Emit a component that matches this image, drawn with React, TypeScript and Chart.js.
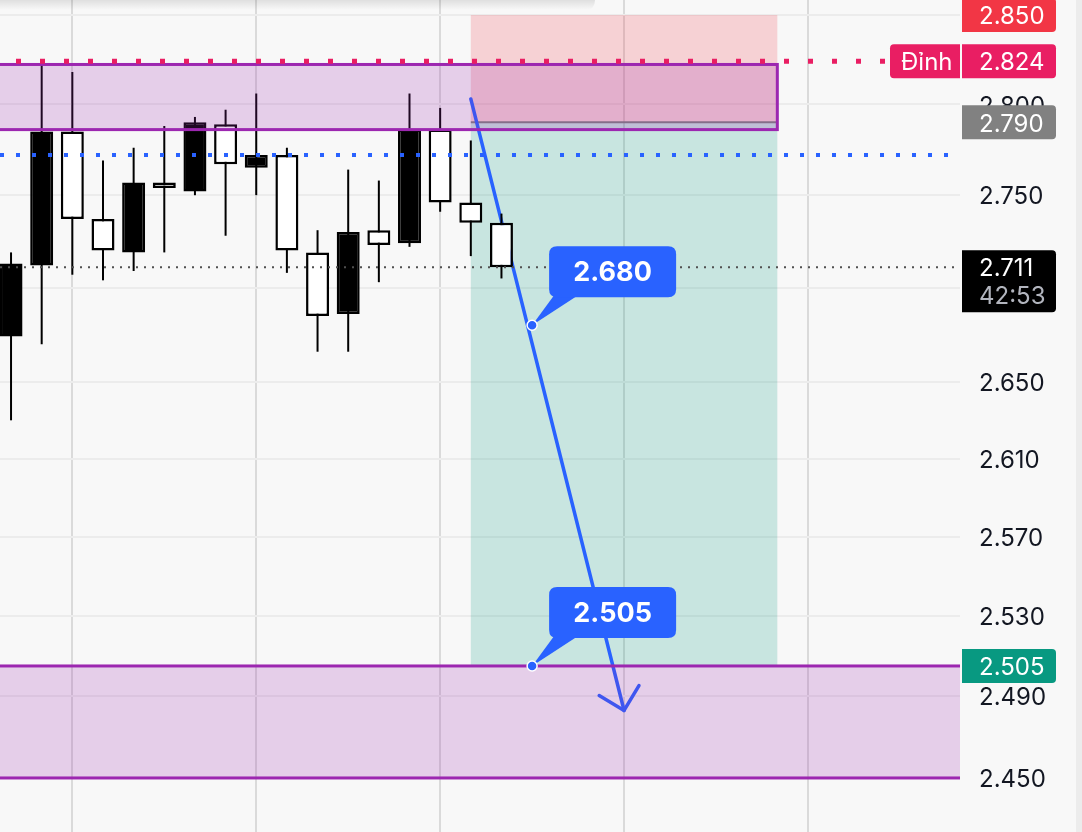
import React, { useEffect, useRef } from "react";
import { Chart, registerables } from "chart.js";

Chart.register(...registerables);

// ---- candle data (index, OHLC) ----
const INDEX = [0, 1, 2, 3, 4, 5, 6, 7, 8, 9, 10, 11, 12, 13, 14, 15, 16];
const OPEN = [2.674, 2.712, 2.785, 2.737, 2.719, 2.757, 2.752, 2.789, 2.765, 2.772, 2.719, 2.686, 2.731, 2.724, 2.786, 2.746, 2.735];
const HIGH = [2.719, 2.823, 2.818, 2.769, 2.776, 2.788, 2.793, 2.797, 2.806, 2.776, 2.731, 2.764, 2.758, 2.806, 2.798, 2.780, 2.740];
const LOW = [2.630, 2.670, 2.707, 2.704, 2.709, 2.719, 2.750, 2.728, 2.750, 2.708, 2.666, 2.666, 2.703, 2.722, 2.741, 2.717, 2.705];
const CLOSE = [2.713, 2.785, 2.737, 2.720, 2.757, 2.754, 2.790, 2.767, 2.772, 2.720, 2.685, 2.730, 2.723, 2.786, 2.746, 2.735, 2.711];

// ---- axes ----
const PRICE_TICKS = [2.45, 2.49, 2.53, 2.57, 2.61, 2.65, 2.7, 2.75, 2.8, 2.85];
const TIME_GRID = [2, 8, 14, 20, 26];
const X_RANGE = [-0.36, 30.96];
const Y_RANGE = [2.4239, 2.8585];

// ---- drawings ----
const POSITION_X = [15, 25];
const POSITION_STOP = 2.85;
const POSITION_ENTRY = 2.79;
const POSITION_TARGET = 2.505;
const TOP_ZONE_X = [-10, 25];
const TOP_ZONE_Y = [2.8222, 2.786];
const BOTTOM_ZONE_X = [-10, 60];
const BOTTOM_ZONE_Y = [2.505, 2.45];
const ARROW_X = [15, 20];
const ARROW_Y = [2.803, 2.483];
const CALLOUT_X = [17, 17];
const CALLOUT_Y = [2.68, 2.505];
const CALLOUT_TEXT = ["2.680", "2.505"];
const PEAK_PRICE = 2.824;
const PEAK_LABEL = "Đỉnh";
const ALERT_PRICE = 2.772;
const LAST_PRICE = 2.711;
const COUNTDOWN = "42:53";
const AXIS_LABEL_VALUES = [2.85, 2.824, 2.79, 2.711, 2.505];
const AXIS_LABEL_TEXT = ["2.850", "2.824", "2.790", "2.711", "2.505"];
const AXIS_LABEL_COLORS = ["#f23645", "#e91e63", "#818181", "#000000", "#089981"];

const FONT = "Inter, 'Noto Sans', sans-serif";

function rr(ctx: CanvasRenderingContext2D, x: number, y: number, w: number, h: number, r: [number, number, number, number]) {
  const [tl, tr, br, bl] = r;
  ctx.beginPath();
  ctx.moveTo(x + tl, y);
  ctx.lineTo(x + w - tr, y);
  ctx.quadraticCurveTo(x + w, y, x + w, y + tr);
  ctx.lineTo(x + w, y + h - br);
  ctx.quadraticCurveTo(x + w, y + h, x + w - br, y + h);
  ctx.lineTo(x + bl, y + h);
  ctx.quadraticCurveTo(x, y + h, x, y + h - bl);
  ctx.lineTo(x, y + tl);
  ctx.quadraticCurveTo(x, y, x + tl, y);
  ctx.closePath();
}

const overlay = {
  id: "overlay",
  beforeDraw(chart: any) {
    const { ctx, width, height } = chart;
    ctx.save();
    ctx.fillStyle = "#f8f8f8";
    ctx.fillRect(0, 0, width, height);
    ctx.restore();
  },
  beforeDatasetsDraw(chart: any) {
    const { ctx, chartArea: a, scales } = chart;
    const x = scales.x;
    const y = scales.y;
    ctx.save();
    ctx.beginPath();
    ctx.rect(a.left, a.top, a.right - a.left, a.bottom - a.top);
    ctx.clip();
    const x0 = x.getPixelForValue(POSITION_X[0]);
    const x1 = x.getPixelForValue(POSITION_X[1]);
    const yS = y.getPixelForValue(POSITION_STOP);
    const yE = y.getPixelForValue(POSITION_ENTRY);
    const yT = y.getPixelForValue(POSITION_TARGET);
    ctx.fillStyle = "rgba(242,54,69,0.2)";
    ctx.fillRect(x0, yS, x1 - x0, yE - yS);
    ctx.fillStyle = "rgba(8,153,129,0.2)";
    ctx.fillRect(x0, yE, x1 - x0, yT - yE);
    ctx.strokeStyle = "#808080";
    ctx.lineWidth = 2;
    ctx.beginPath();
    ctx.moveTo(x0, yE);
    ctx.lineTo(x1, yE);
    ctx.stroke();

    // arrow
    const ax0 = x.getPixelForValue(ARROW_X[0]);
    const ay0 = y.getPixelForValue(ARROW_Y[0]);
    const ax1 = x.getPixelForValue(ARROW_X[1]);
    const ay1 = y.getPixelForValue(ARROW_Y[1]);
    ctx.strokeStyle = "#2962ff";
    ctx.lineWidth = 3.5;
    ctx.lineCap = "round";
    ctx.lineJoin = "round";
    ctx.beginPath();
    ctx.moveTo(ax0, ay0);
    ctx.lineTo(ax1, ay1);
    ctx.stroke();
    const ang = Math.atan2(ay0 - ay1, ax0 - ax1);
    const L = 29;
    ctx.beginPath();
    ctx.moveTo(ax1 + L * Math.cos(ang + Math.PI / 4), ay1 + L * Math.sin(ang + Math.PI / 4));
    ctx.lineTo(ax1, ay1);
    ctx.lineTo(ax1 + L * Math.cos(ang - Math.PI / 4), ay1 + L * Math.sin(ang - Math.PI / 4));
    ctx.stroke();
    ctx.restore();
  },
  afterDatasetsDraw(chart: any) {
    const { ctx, chartArea: a, scales } = chart;
    const x = scales.x;
    const y = scales.y;
    ctx.save();
    ctx.beginPath();
    ctx.rect(a.left, a.top, a.right - a.left, a.bottom - a.top);
    ctx.clip();

    // purple zones
    const zones = [
      [TOP_ZONE_X, TOP_ZONE_Y],
      [BOTTOM_ZONE_X, BOTTOM_ZONE_Y],
    ];
    for (const [zx, zy] of zones) {
      const l = x.getPixelForValue(zx[0]);
      const r = x.getPixelForValue(zx[1]);
      const t = y.getPixelForValue(zy[0]);
      const b = y.getPixelForValue(zy[1]);
      ctx.fillStyle = "rgba(156,39,176,0.2)";
      ctx.fillRect(l, t, r - l, b - t);
      ctx.strokeStyle = "#9c27b0";
      ctx.lineWidth = 3;
      ctx.strokeRect(l, t, r - l, b - t);
    }

    // peak dotted line
    const peakLabelLeft = a.right - 70;
    const yP = y.getPixelForValue(PEAK_PRICE);
    ctx.strokeStyle = "#e91e63";
    ctx.lineWidth = 5;
    ctx.lineCap = "butt";
    ctx.setLineDash([5, 19]);
    ctx.lineDashOffset = 8;
    ctx.beginPath();
    ctx.moveTo(a.left, yP);
    ctx.lineTo(peakLabelLeft, yP);
    ctx.stroke();

    // alert dotted line
    const yA = y.getPixelForValue(ALERT_PRICE);
    ctx.strokeStyle = "#2962ff";
    ctx.lineWidth = 4;
    ctx.setLineDash([4, 12]);
    ctx.lineDashOffset = 0;
    ctx.beginPath();
    ctx.moveTo(a.left, yA);
    ctx.lineTo(a.right, yA);
    ctx.stroke();

    // last price dotted line
    const yL = y.getPixelForValue(LAST_PRICE);
    ctx.strokeStyle = "#505050";
    ctx.lineWidth = 2;
    ctx.setLineDash([2, 6]);
    ctx.beginPath();
    ctx.moveTo(a.left, yL);
    ctx.lineTo(a.right, yL);
    ctx.stroke();
    ctx.setLineDash([]);

    // callouts
    for (let i = 0; i < CALLOUT_X.length; i++) {
      const px = x.getPixelForValue(CALLOUT_X[i]);
      const py = y.getPixelForValue(CALLOUT_Y[i]);
      const bw = 127;
      const bh = 51;
      const bl = px + 17;
      const bb = py - 28;
      const bt = bb - bh;
      ctx.fillStyle = "#2962ff";
      ctx.beginPath();
      ctx.moveTo(bl + 5, bb - 2);
      ctx.lineTo(bl + 29, bb - 2);
      ctx.lineTo(px, py);
      ctx.closePath();
      ctx.fill();
      rr(ctx, bl, bt, bw, bh, [8, 8, 8, 8]);
      ctx.fill();
      ctx.fillStyle = "#ffffff";
      ctx.font = `bold 27px ${FONT}`;
      ctx.textAlign = "center";
      ctx.textBaseline = "middle";
      ctx.fillText(CALLOUT_TEXT[i], bl + bw / 2, bt + bh / 2 + 1);
      ctx.beginPath();
      ctx.arc(px, py, 5, 0, Math.PI * 2);
      ctx.fillStyle = "#2962ff";
      ctx.fill();
      ctx.strokeStyle = "#ffffff";
      ctx.lineWidth = 1.5;
      ctx.stroke();
    }
    ctx.restore();

    // axis labels
    ctx.save();
    ctx.font = `24px ${FONT}`;
    ctx.textBaseline = "middle";
    ctx.textAlign = "left";
    const boxL = a.right + 2;
    const boxW = 94;
    for (let i = 0; i < AXIS_LABEL_VALUES.length; i++) {
      const cy = y.getPixelForValue(AXIS_LABEL_VALUES[i]);
      const isLast = AXIS_LABEL_VALUES[i] === LAST_PRICE;
      const h = isLast ? 62 : 34;
      ctx.fillStyle = AXIS_LABEL_COLORS[i];
      rr(ctx, boxL, cy - 17, boxW, h, [0, 4, 4, 0]);
      ctx.fill();
      ctx.fillStyle = "#ffffff";
      ctx.fillText(AXIS_LABEL_TEXT[i], a.right + 19, cy + 2);
      if (isLast) {
        ctx.fillStyle = "#b2b5be";
        ctx.fillText(COUNTDOWN, a.right + 19, cy + 30);
      }
      if (AXIS_LABEL_VALUES[i] === PEAK_PRICE) {
        ctx.fillStyle = AXIS_LABEL_COLORS[i];
        rr(ctx, peakLabelLeft, cy - 17, 70, 34, [4, 0, 0, 4]);
        ctx.fill();
        ctx.fillStyle = "#ffffff";
        ctx.fillText(PEAK_LABEL, peakLabelLeft + 11, cy + 2);
      }
    }
    // right strip
    ctx.fillStyle = "#ececec";
    ctx.fillRect(chart.width - 6, 0, 6, chart.height);
    // top shadow
    const g = ctx.createLinearGradient(0, 0, 0, 10);
    g.addColorStop(0, "rgba(0,0,0,0.10)");
    g.addColorStop(1, "rgba(0,0,0,0)");
    ctx.fillStyle = g;
    rr(ctx, -10, -10, 605, 20, [0, 10, 10, 0]);
    ctx.fill();
    ctx.restore();
  },
};

export default function App() {
  const ref = useRef<HTMLCanvasElement>(null);
  useEffect(() => {
    document.body.style.margin = "0";
    const bodies = INDEX.map((i, k) => ({ x: i, y: [OPEN[k], CLOSE[k]] }));
    const wicks = INDEX.map((i, k) => ({ x: i, y: [LOW[k], HIGH[k]] }));
    const bodyColors = INDEX.map((_, k) => (CLOSE[k] >= OPEN[k] ? "#000000" : "#ffffff"));
    const chart = new Chart(ref.current as HTMLCanvasElement, {
      type: "bar",
      data: {
        datasets: [
          {
            data: bodies as any,
            backgroundColor: bodyColors,
            borderColor: "#000000",
            borderWidth: 2.5,
            borderSkipped: false,
            grouped: false,
            categoryPercentage: 1,
            barPercentage: 0.75,
            order: 0,
          } as any,
          {
            data: wicks as any,
            backgroundColor: "#000000",
            borderWidth: 0,
            grouped: false,
            categoryPercentage: 1,
            barPercentage: 0.1,
            maxBarThickness: 2,
            order: 1,
          } as any,
        ],
      },
      options: {
        responsive: false,
        animation: false,
        layout: { padding: 0 },
        plugins: { legend: { display: false }, tooltip: { enabled: false } },
        scales: {
          x: {
            type: "linear",
            min: X_RANGE[0],
            max: X_RANGE[1],
            offset: false,
            afterBuildTicks: (s: any) => {
              s.ticks = TIME_GRID.map((v) => ({ value: v }));
            },
            ticks: { display: false },
            grid: { color: "#dadada", lineWidth: 2, drawTicks: false, offset: false },
            border: { display: false },
            afterFit: (s: any) => {
              s.height = 0;
            },
          },
          y: {
            type: "logarithmic",
            position: "right",
            min: Y_RANGE[0],
            max: Y_RANGE[1],
            bounds: "data",
            beginAtZero: false,
            afterBuildTicks: (s: any) => {
              s.ticks = PRICE_TICKS.map((v) => ({ value: v }));
            },
            ticks: {
              autoSkip: false,
              padding: 19,
              labelOffset: 2,
              color: "#131722",
              font: { family: FONT, size: 24 },
              callback: (v: any) => Number(v).toFixed(3),
            },
            grid: { color: "#ececec", lineWidth: 2, drawTicks: false },
            border: { display: false },
            afterFit: (s: any) => {
              s.width = 122;
              s.paddingTop = 0;
              s.paddingBottom = 0;
            },
          },
        } as any,
      },
      plugins: [overlay as any],
    });
    return () => chart.destroy();
  }, []);
  return (
    <div style={{ width: 1082, height: 832 }}>
      <canvas ref={ref} width={1082} height={832} style={{ display: "block", width: 1082, height: 832 }} />
    </div>
  );
}
